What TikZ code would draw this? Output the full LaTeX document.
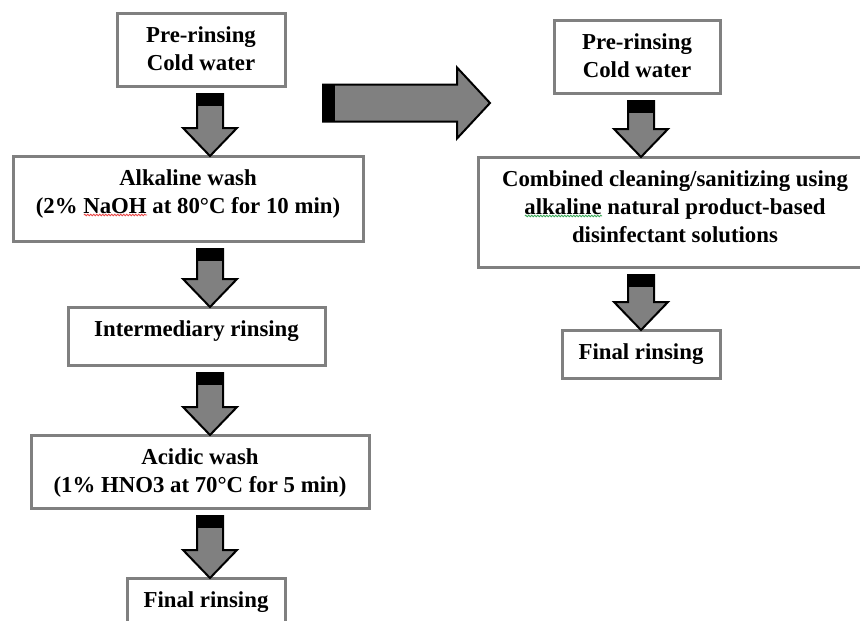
\documentclass[tikz,border=0pt]{standalone}
\usepackage{fontspec}
\setmainfont{Liberation Serif}
\usetikzlibrary{calc,decorations.pathmorphing}

\definecolor{framegray}{RGB}{128,128,128}
\definecolor{arrowgray}{RGB}{128,128,128}
\definecolor{spellred}{RGB}{235,70,70}
\definecolor{spellgreen}{RGB}{60,170,90}

\tikzset{
  stepbox/.style={draw=framegray, line width=3pt, fill=white, align=center,
    font=\bfseries\fontsize{22.8}{28}\selectfont, inner sep=0pt, outer sep=0pt,
    anchor=north, text height=29pt},
  twolines/.style={text height=57pt},
  threelines/.style={text height=85pt},
  blockbody/.style={fill=arrowgray, draw=black, line width=2pt, line join=miter},
}

% wavy spell-check line under a word
\newcommand{\spellmark}[2]{%
  \setbox0=\hbox{#2}%
  \rlap{\tikz[baseline=0pt]\draw[#1, line width=0.8pt, decorate,
    decoration={snake, amplitude=0.8pt, segment length=3pt}] (0pt,-2pt) -- (\wd0,-2pt);}%
  \box0\relax}

% block arrow from box #2 down to box #3, on column #1
\newcommand{\stepdown}[3]{%
  \coordinate (top) at ($(#1 |- #2.south)+(0,8)$);
  \coordinate (tip) at (#1 |- #3.north);
  \draw[blockbody] ($(top)+(-13,0)$) -- ($(top)+(13,0)$) -- ($(tip)+(13,-28)$)
    -- ($(tip)+(27,-28)$) -- (tip) -- ($(tip)+(-27,-28)$) -- ($(tip)+(-13,-28)$) -- cycle;
  \fill ($(top)+(-13,0)$) rectangle ($(top)+(13,12)$);
}

\begin{document}
\begin{tikzpicture}[x=1pt,y=-1pt]
\useasboundingbox (0,0) rectangle (860,621);
\clip (0,0) rectangle (860,621);

% conventional cleaning
\node[stepbox, twolines, minimum width=168pt, text depth=16pt] (pre) at (201,13) {Pre-rinsing\\Cold water};
\node[stepbox, twolines, minimum width=350pt, text depth=28pt] (alkali) at (188,156)
  {Alkaline wash\\(2\% \spellmark{spellred}{NaOH} at 80°C for 10 min)};
\node[stepbox, minimum width=257pt, text depth=29pt] (midrinse) at (196.5,307) {Intermediary rinsing};
\node[stepbox, twolines, minimum width=338pt, text depth=16pt] (acid) at (200,435) {Acidic wash\\(1\% HNO3 at 70°C for 5 min)};
\node[stepbox, minimum width=158pt, text depth=41pt] (finalL) at (206,578) {Final rinsing};

% combined cleaning
\node[stepbox, twolines, minimum width=166pt, text depth=16pt] (preR) at (637,20) {Pre-rinsing\\Cold water};
\node[stepbox, threelines, minimum width=394pt, text depth=25pt] (combined) at (675,157)
  {Combined cleaning/sanitizing using\\\spellmark{spellgreen}{alkaline} natural product-based\\disinfectant solutions};
\node[stepbox, minimum width=158pt, text depth=19pt] (finalR) at (641,330) {Final rinsing};

\coordinate (colL) at (210,0);
\coordinate (colR) at (641,0);

\stepdown{colL}{pre}{alkali}
\stepdown{colL}{alkali}{midrinse}
\stepdown{colL}{midrinse}{acid}
\stepdown{colL}{acid}{finalL}
\stepdown{colR}{preR}{combined}
\stepdown{colR}{combined}{finalR}

% big arrow between the two schemes
\coordinate (shiftfrom) at (323,103);
\coordinate (shiftto) at (490,103);
\draw[blockbody] ($(shiftfrom)+(0,-18.5)$) -- ($(shiftto)+(-33,-18.5)$) -- ($(shiftto)+(-33,-35.5)$)
  -- (shiftto) -- ($(shiftto)+(-33,35.5)$) -- ($(shiftto)+(-33,18.5)$) -- ($(shiftfrom)+(0,18.5)$) -- cycle;
\fill ($(shiftfrom)+(0,-18.5)$) rectangle ($(shiftfrom)+(12,18.5)$);

\end{tikzpicture}
\end{document}
